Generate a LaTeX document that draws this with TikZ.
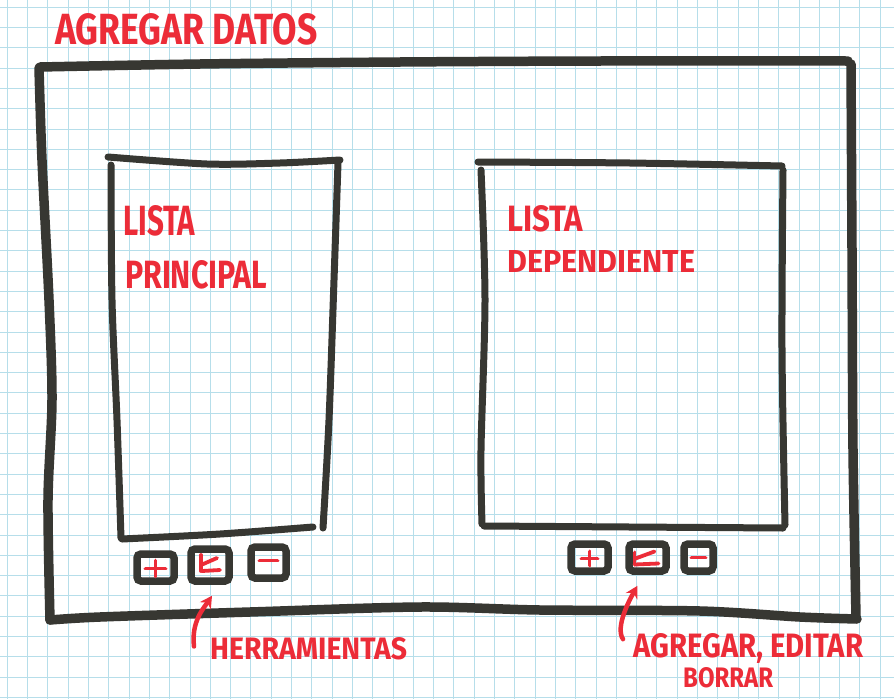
\documentclass[tikz,border=0pt]{standalone}
\usepackage{fontspec}
\setmainfont{Fira Sans}
\usepackage{graphicx}
\usetikzlibrary{calc,arrows.meta}
\definecolor{ink}{RGB}{55,55,50}
\definecolor{marker}{RGB}{236,44,56}
\definecolor{gridblue}{RGB}{182,222,234}
% hand lettering: text stretched to a given width and cap height
\newcommand{\hand}[3]{\resizebox{#1pt}{#2pt}{\bfseries #3}}
\begin{document}
\begin{tikzpicture}[x=1pt,y=-1pt,
  frameline/.style={draw=ink,line width=9.5pt,line cap=round,line join=round},
  panelline/.style={draw=ink,line width=7pt,line cap=round,line join=round},
  button/.style={draw=ink,line width=7.5pt,rounded corners=4pt,inner sep=0pt},
  icon/.style={draw=marker,line width=3.8pt,line cap=round,line join=round},
  label/.style={inner sep=0pt,anchor=north west,text=marker},
  pointer/.style={draw=marker,line width=4.5pt,line cap=round,
    -{Stealth[length=12pt,width=13pt]}}
]
% sheet of squared paper
\fill[white] (0,0) rectangle (894,699);
\useasboundingbox (0,0) rectangle (894,699);
\foreach \k in {0,...,43}
  \draw[gridblue,line width=0.9pt] ({7.3+20.3*\k},0) -- ({7.3+20.3*\k},699);
\foreach \k in {0,...,34}
  \draw[gridblue,line width=0.9pt] (0,{7.2+20.3*\k}) -- (894,{7.2+20.3*\k});

% window frame
\draw[frameline] plot[smooth] coordinates {(40,67) (200,64) (400,62) (600,61) (848,61)};
\draw[frameline] plot[smooth] coordinates {(851,64) (852,250) (853,450) (856,617)};
\draw[frameline] plot[smooth] coordinates {(857,619) (800,617) (700,611) (540,610) (420,607) (250,612) (100,617) (50,620)};
\draw[frameline] plot[smooth] coordinates {(50,620) (48,500) (52,400) (49,300) (42,160) (39,68)};

% main list panel
\draw[panelline] plot[smooth] coordinates {(108,157) (207,164) (280,163) (340,160)};
\draw[panelline] plot[smooth] coordinates {(111,165) (112,300) (117,420) (121,538)};
\draw[panelline] plot[smooth] coordinates {(338,163) (334,280) (329,420) (323,528)};
\draw[panelline] plot[smooth] coordinates {(122,539) (220,534) (313,527)};

% dependent list panel
\draw[panelline] plot[smooth] coordinates {(478,162) (630,163) (782,166)};
\draw[panelline] plot[smooth] coordinates {(481,170) (485,300) (481,450) (482,524)};
\draw[panelline] plot[smooth] coordinates {(783,170) (782,350) (785,525)};
\draw[panelline] plot[smooth] coordinates {(484,526) (630,527) (783,528)};

% titles
\node[label] (title) at (55,13) {\hand{262}{31}{AGREGAR DATOS}};
\node[label] (ll1) at (123,205) {\hand{72}{30}{LISTA}};
\node[label] (ll2) at (125,260) {\hand{142}{28}{PRINCIPAL}};
\node[label] (rl1) at (507,205) {\hand{76}{26}{LISTA}};
\node[label] (rl2) at (507,250) {\hand{188}{22}{DEPENDIENTE}};

% toolbar of the main list
\node[button,minimum width=37pt,minimum height=27pt] (lb1) at (155.5,567.5) {};
\node[button,minimum width=38pt,minimum height=32pt] (lb2) at (210,565) {};
\node[button,minimum width=35pt,minimum height=31pt] (lb3) at (268.5,562.5) {};
\draw[icon] ($(lb1.center)+(-10,1)$) -- ($(lb1.center)+(10,1)$);
\draw[icon] ($(lb1.center)+(0,-7)$) -- ($(lb1.center)+(0,9)$);
\draw[icon] ($(lb2.center)+(-9,-10)$) -- ($(lb2.center)+(-9,6)$);
\draw[icon] ($(lb2.center)+(-9,0)$) -- ($(lb2.center)+(7,-7)$);
\draw[icon] ($(lb2.center)+(-8,6)$) -- ($(lb2.center)+(10,5)$);
\draw[icon] ($(lb3.center)+(-9,-2)$) -- ($(lb3.center)+(9,-2)$);

% toolbar of the dependent list
\node[button,minimum width=37pt,minimum height=27pt] (rb1) at (589.5,557.5) {};
\node[button,minimum width=37pt,minimum height=27pt] (rb2) at (647.5,557.5) {};
\node[button,minimum width=29pt,minimum height=27pt] (rb3) at (698.5,557.5) {};
\draw[icon] ($(rb1.center)+(-8,1)$) -- ($(rb1.center)+(8,1)$);
\draw[icon] ($(rb1.center)+(0,-6)$) -- ($(rb1.center)+(0,8)$);
\draw[icon] ($(rb2.center)+(-13,-5)$) -- ($(rb2.center)+(-13,7)$);
\draw[icon] ($(rb2.center)+(-12,1)$) -- ($(rb2.center)+(7,-6)$);
\draw[icon] ($(rb2.center)+(-13,7)$) -- ($(rb2.center)+(11,6)$);
\draw[icon] ($(rb3.center)+(-7,0)$) -- ($(rb3.center)+(7,0)$);

% callouts
\node[label] (herr) at (210,637) {\hand{197}{22}{HERRAMIENTAS}};
\node[label] (agr) at (633,633) {\hand{230}{24}{AGREGAR, EDITAR}};
\node[label] (borr) at (683,667) {\hand{90}{20}{BORRAR}};

\draw[pointer] ($(herr.west)+(-16,-2)$) .. controls +(-3,-25) and +(-8,12) .. ($(lb2.south)+(2,11)$);
\draw[pointer] ($(agr.west)+(-10,-9)$) .. controls +(-8,-12) and +(-8,14) .. ($(rb2.south)+(-10,11)$);
\end{tikzpicture}
\end{document}
